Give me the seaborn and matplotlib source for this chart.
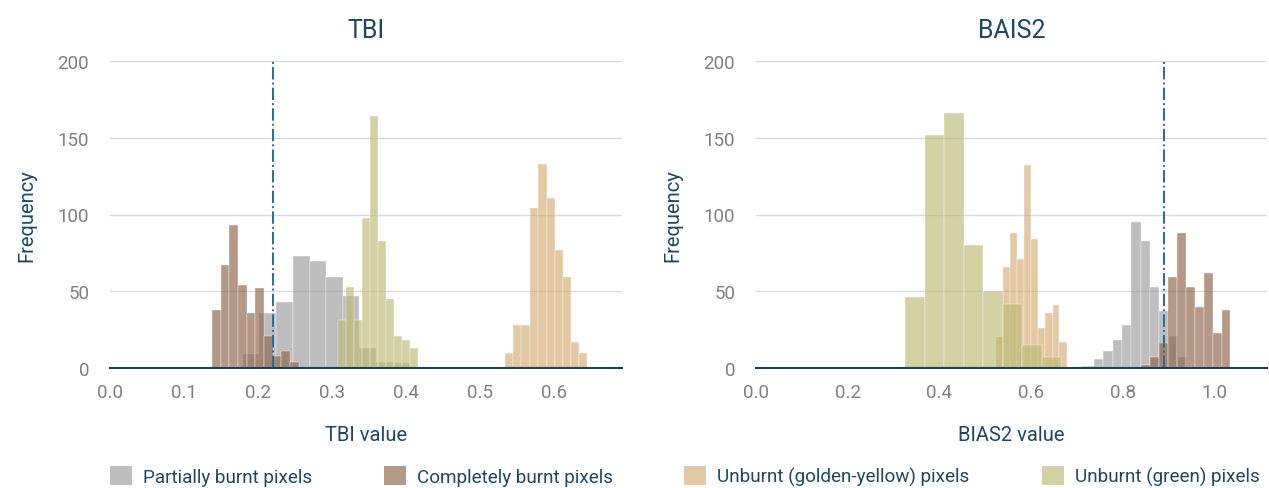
import matplotlib
matplotlib.use("Agg")
import matplotlib.pyplot as plt
from matplotlib.patches import Patch
import seaborn as sns

# series labels / colours
labels = ["Partially burnt pixels", "Completely burnt pixels",
          "Unburnt (golden-yellow) pixels", "Unburnt (green) pixels"]
colors = ["#9C9C9C", "#8D6446", "#D4AD74", "#BBBB73"]
ALPHA = 0.65

# TBI histograms (bin edges, counts)
tbi_partial_edges = [0.180, 0.202, 0.225, 0.247, 0.270, 0.292, 0.315, 0.337, 0.360, 0.382, 0.405]
tbi_partial_counts = [9, 36, 43, 73, 70, 59, 47, 13, 4, 3]
tbi_complete_edges = [0.138, 0.150, 0.161, 0.173, 0.185, 0.196, 0.208, 0.220, 0.231, 0.243, 0.255]
tbi_complete_counts = [38, 67, 93, 54, 36, 52, 21, 8, 11, 4]
tbi_golden_edges = [0.534, 0.545, 0.556, 0.567, 0.578, 0.590, 0.601, 0.612, 0.623, 0.634, 0.645]
tbi_golden_counts = [10, 28, 28, 104, 133, 111, 77, 59, 17, 10]
tbi_green_edges = [0.308, 0.319, 0.330, 0.340, 0.351, 0.362, 0.373, 0.384, 0.394, 0.405, 0.416]
tbi_green_counts = [31, 53, 31, 98, 164, 83, 45, 21, 18, 13]
tbi_threshold = 0.22
tbi_xticks = [0.0, 0.1, 0.2, 0.3, 0.4, 0.5, 0.6]

# BAIS2 histograms
bais_partial_edges = [0.737, 0.757, 0.778, 0.798, 0.819, 0.839, 0.859, 0.880, 0.900, 0.920, 0.941]
bais_partial_counts = [6, 11, 18, 28, 95, 83, 53, 37, 21, 7]
bais_complete_edges = [0.840, 0.859, 0.879, 0.898, 0.918, 0.937, 0.957, 0.977, 0.996, 1.016, 1.035]
bais_complete_counts = [2, 7, 16, 59, 88, 53, 40, 62, 23, 38]
bais_golden_edges = [0.523, 0.538, 0.554, 0.569, 0.585, 0.600, 0.616, 0.631, 0.647, 0.662, 0.678]
bais_golden_counts = [20, 66, 88, 71, 132, 84, 26, 36, 41, 17]
bais_green_edges = [0.326, 0.369, 0.411, 0.454, 0.496, 0.538, 0.581, 0.623, 0.666, 0.708, 0.750]
bais_green_counts = [46, 152, 166, 80, 50, 42, 15, 7, 0, 1]
bais_threshold = 0.89
bais_xticks = [0.0, 0.2, 0.4, 0.6, 0.8, 1.0]

yticks = [0, 50, 100, 150, 200]

sns.set_theme(style="white")
plt.rcParams['font.family'] = ['Roboto', 'DejaVu Sans']

TXT = "#1C4866"
TICK = "#808080"

fig = plt.figure(figsize=(12.69, 4.89), dpi=100)
ax1 = fig.add_axes([110 / 1269, 1 - 369 / 489, 511.7 / 1269, 307 / 489])
ax2 = fig.add_axes([756 / 1269, 1 - 369 / 489, 510.7 / 1269, 307 / 489])


def draw_panel(ax, series, thr, xticks, xmax, title, xlabel):
    for (edges, counts), c in zip(series, colors):
        centers = [(a + b) / 2 for a, b in zip(edges[:-1], edges[1:])]
        sns.histplot(x=centers, weights=counts, bins=list(edges), ax=ax,
                     color=c, alpha=ALPHA, edgecolor="white", linewidth=0.25)
    ax.axvline(thr, color="#1F6FA0", ls="-.", lw=1.4)
    ax.set_xlim(0, xmax)
    ax.set_ylim(0, 200)
    ax.set_xticks(xticks)
    ax.set_xticklabels([f"{t:.1f}" for t in xticks])
    ax.set_yticks(yticks)
    ax.grid(axis="y", color="#D9D9D9", lw=1)
    ax.set_axisbelow(True)
    for s in ["top", "right", "left"]:
        ax.spines[s].set_visible(False)
    ax.spines["bottom"].set_color("#1F4058")
    ax.spines["bottom"].set_linewidth(1.5)
    ax.tick_params(axis="both", length=0, labelsize=13.5, labelcolor=TICK)
    ax.tick_params(axis="x", pad=11)
    ax.tick_params(axis="y", pad=15)
    ax.set_title(title, fontsize=18, color=TXT, pad=17)
    ax.set_xlabel(xlabel, fontsize=14.5, color=TXT, labelpad=17)
    ax.set_ylabel("Frequency", fontsize=14.5, color=TXT, labelpad=15)


draw_panel(ax1,
           [(tbi_partial_edges, tbi_partial_counts),
            (tbi_complete_edges, tbi_complete_counts),
            (tbi_golden_edges, tbi_golden_counts),
            (tbi_green_edges, tbi_green_counts)],
           tbi_threshold, tbi_xticks, 0.6915, "TBI", "TBI value")
draw_panel(ax2,
           [(bais_partial_edges, bais_partial_counts),
            (bais_complete_edges, bais_complete_counts),
            (bais_golden_edges, bais_golden_counts),
            (bais_green_edges, bais_green_counts)],
           bais_threshold, bais_xticks, 1.114, "BAIS2", "BIAS2 value")

# legend entries placed one by one along the bottom
legend_x = [110, 384, 684, 1042]
for x, c, lab in zip(legend_x, colors, labels):
    leg = fig.legend([Patch(facecolor=c, alpha=ALPHA, edgecolor="none")], [lab],
                     loc="center left", bbox_to_anchor=(x / 1269, 1 - 477 / 489),
                     frameon=False, fontsize=13.6, handlelength=1.15, handleheight=1.15,
                     handletextpad=0.6, borderpad=0, borderaxespad=0)
    for t in leg.get_texts():
        t.set_color(TXT)

fig.savefig("out.png", dpi=100)
